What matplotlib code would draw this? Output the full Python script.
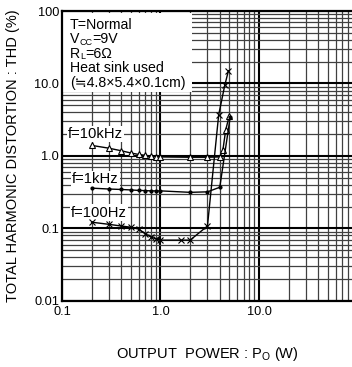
import matplotlib.pyplot as plt
from matplotlib.patches import Rectangle
from matplotlib.ticker import FixedLocator, LogLocator, NullFormatter
from matplotlib.transforms import offset_copy

plt.rcParams['font.family'] = ['Liberation Sans', 'DejaVu Sans']
plt.rcParams['mathtext.fontset'] = 'custom'
plt.rcParams['mathtext.rm'] = 'Liberation Sans'

# Data (output power in W, THD in %)
po_10k = [0.2, 0.3, 0.4, 0.5, 0.6, 0.7, 0.8, 0.9, 1.0, 2.0, 3.0, 4.0, 4.3, 4.6, 5.0]
thd_10k = [1.4, 1.28, 1.18, 1.1, 1.05, 1.02, 1.0, 0.98, 0.97, 0.96, 0.96, 0.97, 1.2, 2.3, 3.6]

po_1k = [0.2, 0.3, 0.4, 0.5, 0.6, 0.7, 0.8, 0.9, 1.0, 2.0, 3.0, 4.0, 5.1]
thd_1k = [0.36, 0.35, 0.345, 0.34, 0.335, 0.333, 0.33, 0.33, 0.33, 0.315, 0.32, 0.37, 3.4]

po_100 = [0.2, 0.3, 0.4, 0.5, 0.6, 0.7, 0.8, 0.9, 1.0, 1.6, 2.0, 3.0, 3.9, 4.5, 4.9]
thd_100 = [0.122, 0.114, 0.108, 0.104, 0.098, 0.085, 0.076, 0.072, 0.069, 0.069, 0.069,
           0.108, 3.7, 9.5, 15.0]

x_ticks = [0.1, 1.0, 10.0]
x_labels = ['0.1', '1.0', '10.0']
y_ticks = [0.01, 0.1, 1.0, 10.0, 100.0]
y_labels = ['0.01', '0.1', '1.0', '10.0', '100']

# condition lines as (main, subscript, rest) pieces
cond_lines = [('T=Normal', '', ''), ('V', 'CC', '=9V'), ('R', 'L', '=6Ω'),
              ('Heat sink used', '', ''), ('(≒4.8×5.4×0.1cm)', '', '')]

fig = plt.figure(figsize=(3.52, 3.67), dpi=100)
ax = fig.add_axes([0.176, 0.180, 0.824, 0.790])
ax.set_xscale('log')
ax.set_yscale('log')
ax.set_xlim(0.1, 88)
ax.set_ylim(0.01, 100)

ax.xaxis.set_major_locator(FixedLocator(x_ticks))
ax.set_xticklabels(x_labels)
ax.yaxis.set_major_locator(FixedLocator(y_ticks))
ax.set_yticklabels(y_labels)
for axis in (ax.xaxis, ax.yaxis):
    axis.set_minor_locator(LogLocator(base=10, subs=range(2, 10)))
    axis.set_minor_formatter(NullFormatter())
ax.tick_params(which='both', length=0, labelsize=9.2)
ax.tick_params(axis='x', pad=4)
ax.tick_params(axis='y', pad=2)

ax.grid(which='major', color='black', lw=1.5, zorder=0)
ax.grid(which='minor', color='#404040', lw=0.9, zorder=0)
ax.set_axisbelow(True)

for side in ('left', 'bottom', 'top'):
    ax.spines[side].set_linewidth(1.6)
ax.spines['right'].set_visible(False)

ax.plot(po_10k, thd_10k, color='black', lw=1.0, marker='^', ms=5,
        mfc='white', mec='black', mew=0.8, zorder=3)
ax.plot(po_1k, thd_1k, color='black', lw=1.0, marker='.', ms=4, zorder=3)
ax.plot(po_100, thd_100, color='black', lw=1.0, marker='x', ms=4, mew=0.8, zorder=3)

# white panel with the test conditions
ax.add_patch(Rectangle((0.004, 0.721), 0.446, 0.271, transform=ax.transAxes,
                       facecolor='white', edgecolor='none', zorder=2))
renderer = fig.canvas.get_renderer()
for i, (main, sub, rest) in enumerate(cond_lines):
    y = 0.952 - i * 0.05
    t = ax.text(0.028, y, main, transform=ax.transAxes, fontsize=10.2,
                va='baseline', ha='left', zorder=2.5)
    t.set_y(y - 0.013)
    if not sub:
        continue
    w = t.get_window_extent(renderer).width * 72 / fig.dpi
    tr = offset_copy(ax.transAxes, fig=fig, x=w, y=-1.0, units='points')
    s = ax.text(0.028, y - 0.013, sub, transform=tr, fontsize=6.5,
                va='baseline', ha='left', zorder=2.5)
    w2 = w + s.get_window_extent(renderer).width * 72 / fig.dpi
    tr2 = offset_copy(ax.transAxes, fig=fig, x=w2, y=0, units='points')
    ax.text(0.028, y - 0.013, rest, transform=tr2, fontsize=10.2,
            va='baseline', ha='left', zorder=2.5)

box = dict(facecolor='white', edgecolor='none', pad=1.0)
ax.text(0.115, 2.0, 'f=10kHz', fontsize=10.6, va='center', ha='left', bbox=box, zorder=2)
ax.text(0.126, 0.48, 'f=1kHz', fontsize=10.6, va='center', ha='left', bbox=box, zorder=2)
ax.text(0.124, 0.165, 'f=100Hz', fontsize=10.6, va='center', ha='left', bbox=box, zorder=2)

ax.set_xlabel('OUTPUT  POWER : P$_{\\mathrm{O}}$ (W)', fontsize=10.5, labelpad=19)
ax.set_ylabel('TOTAL HARMONIC DISTORTION : THD (%)', fontsize=10.5, labelpad=10)

fig.savefig('out.png', dpi=100)
